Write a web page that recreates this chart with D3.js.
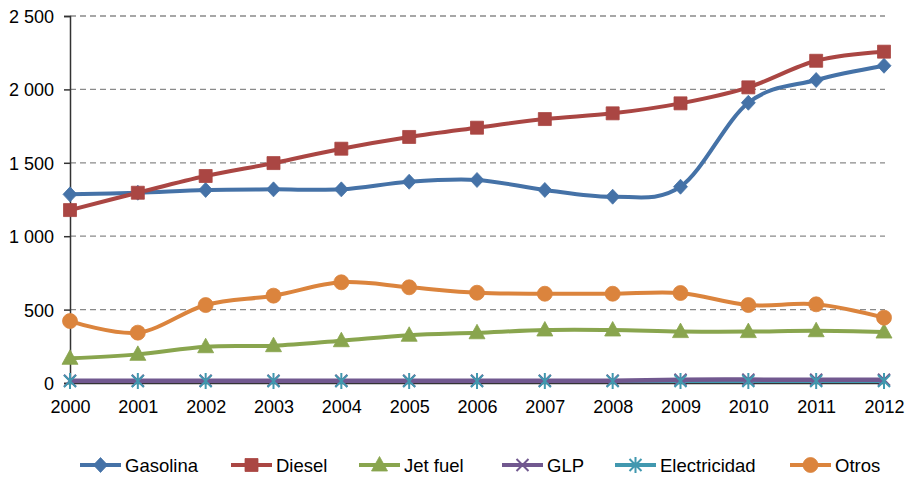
<!DOCTYPE html>
<html lang="es">
<head>
  <meta charset="UTF-8">
  <title>Consumo por combustible 2000-2012</title>
  <script src="https://d3js.org/d3.v7.min.js"></script>
  <style>
    body { margin: 0; background: #fff; }
    text { font-family: Arial, "Liberation Sans", sans-serif; fill: #000; }
  </style>
</head>
<body>
<svg id="chart" width="912" height="483"></svg>

<script>
const years = [2000, 2001, 2002, 2003, 2004, 2005, 2006, 2007, 2008, 2009, 2010, 2011, 2012];

const gasolina     = [1285, 1296, 1315, 1319, 1319, 1371, 1383, 1315, 1269, 1337, 1909, 2064, 2161];
const diesel       = [1178, 1296, 1410, 1498, 1596, 1676, 1739, 1798, 1837, 1905, 2014, 2195, 2257];
const jetFuel      = [168, 195, 247, 254, 288, 325, 342, 361, 361, 350, 350, 356, 347];
const glp          = [15, 15, 15, 15, 15, 15, 15, 15, 16, 22, 23, 22, 22];
const electricidad = [13, 13, 13, 13, 13, 13, 13, 13, 13, 14, 14, 14, 14];
const otros        = [422, 343, 531, 595, 686, 652, 615, 608, 608, 613, 531, 536, 445];

const yTicks = [0, 500, 1000, 1500, 2000, 2500];

// drawing order: electricidad line lies under the GLP line
const series = [
  { name: "Gasolina",     values: gasolina,     color: "#4572A7", marker: "diamond" },
  { name: "Diesel",       values: diesel,       color: "#AA4643", marker: "square" },
  { name: "Jet fuel",     values: jetFuel,      color: "#89A54E", marker: "triangle" },
  { name: "Electricidad", values: electricidad, color: "#4198AF", marker: "star" },
  { name: "GLP",          values: glp,          color: "#71588F", marker: "x" },
  { name: "Otros",        values: otros,        color: "#DB843D", marker: "circle" }
];
const markerOrder = ["Gasolina", "Diesel", "Jet fuel", "GLP", "Electricidad", "Otros"];
const legendOrder = ["Gasolina", "Diesel", "Jet fuel", "GLP", "Electricidad", "Otros"];
const legendX = [80, 231, 359, 502, 615, 790];

const svg = d3.select("#chart");
const plotLeft = 70, plotRight = 884, plotTop = 16, plotBottom = 383;

const x = d3.scaleLinear().domain([2000, 2012]).range([plotLeft, plotRight]);
const y = d3.scaleLinear().domain([0, 2500]).range([plotBottom, plotTop]);

// gridlines
svg.append("g")
  .selectAll("line")
  .data(yTicks.filter(d => d > 0))
  .join("line")
  .attr("x1", plotLeft).attr("x2", plotRight + 1)
  .attr("y1", d => y(d)).attr("y2", d => y(d))
  .attr("stroke", "#8a8a8a")
  .attr("stroke-width", 1.3)
  .attr("stroke-dasharray", "6,4");

// y axis
const yAxis = svg.append("g")
  .attr("transform", `translate(${plotLeft},0)`)
  .call(d3.axisLeft(y).tickValues(yTicks).tickSize(6).tickPadding(10)
    .tickFormat(d => d3.format(",")(d).replace(/,/g, " ")));
yAxis.select(".domain").attr("stroke", "#333").attr("stroke-width", 1.5);
yAxis.selectAll(".tick line").attr("stroke", "#333").attr("stroke-width", 1.5);
yAxis.selectAll(".tick text").attr("font-size", 18).attr("dy", "0.36em");

// x axis
const xAxis = svg.append("g")
  .attr("transform", `translate(0,${plotBottom})`)
  .call(d3.axisBottom(x).tickValues(years).tickSize(0).tickPadding(17).tickFormat(d3.format("d")));
xAxis.select(".domain").attr("stroke", "#333").attr("stroke-width", 1.5);
xAxis.selectAll(".tick text").attr("font-size", 18);

function markerPath(type, cx, cy) {
  const s = d3.path();
  if (type === "diamond") {
    s.moveTo(cx, cy - 7.5); s.lineTo(cx + 7, cy); s.lineTo(cx, cy + 7.5); s.lineTo(cx - 7, cy); s.closePath();
  } else if (type === "square") {
    s.rect(cx - 6.5, cy - 6.5, 13, 13);
  } else if (type === "triangle") {
    s.moveTo(cx, cy - 8.5); s.lineTo(cx + 8, cy + 6); s.lineTo(cx - 8, cy + 6); s.closePath();
  } else if (type === "circle") {
    s.arc(cx, cy, 7.5, 0, 2 * Math.PI);
  } else if (type === "x") {
    s.moveTo(cx - 6, cy - 6); s.lineTo(cx + 6, cy + 6);
    s.moveTo(cx + 6, cy - 6); s.lineTo(cx - 6, cy + 6);
  } else if (type === "star") {
    s.moveTo(cx - 6, cy - 6); s.lineTo(cx + 6, cy + 6);
    s.moveTo(cx + 6, cy - 6); s.lineTo(cx - 6, cy + 6);
    s.moveTo(cx, cy - 8); s.lineTo(cx, cy + 8);
  }
  return s.toString();
}

function drawMarker(g, type, color, cx, cy) {
  const open = type === "x" || type === "star";
  g.append("path")
    .attr("d", markerPath(type, cx, cy))
    .attr("fill", open ? "none" : color)
    .attr("stroke", color)
    .attr("stroke-width", open ? 2 : 0.8);
}

const line = d3.line()
  .x((d, i) => x(years[i]))
  .y(d => y(d))
  .curve(d3.curveCardinal.tension(0));

const plot = svg.append("g");
series.forEach(s => {
  plot.append("path")
    .attr("d", line(s.values))
    .attr("fill", "none")
    .attr("stroke", s.color)
    .attr("stroke-width", s.name === "GLP" ? 4.5 : 4)
    .attr("stroke-linejoin", "round");
});
markerOrder.forEach(name => {
  const s = series.find(d => d.name === name);
  const mg = plot.append("g");
  s.values.forEach((v, i) => drawMarker(mg, s.marker, s.color, x(years[i]), y(v)));
});

// legend
const legend = svg.append("g");
legendOrder.forEach((name, i) => {
  const s = series.find(d => d.name === name);
  const lx = legendX[i], ly = 465;
  legend.append("line")
    .attr("x1", lx).attr("x2", lx + 41)
    .attr("y1", ly).attr("y2", ly)
    .attr("stroke", s.color).attr("stroke-width", 4);
  drawMarker(legend, s.marker, s.color, lx + 20.5, ly);
  legend.append("text")
    .attr("x", lx + 45)
    .attr("y", ly)
    .attr("dy", "0.36em")
    .attr("font-size", 18.5)
    .text(name);
});
</script>
</body>
</html>
